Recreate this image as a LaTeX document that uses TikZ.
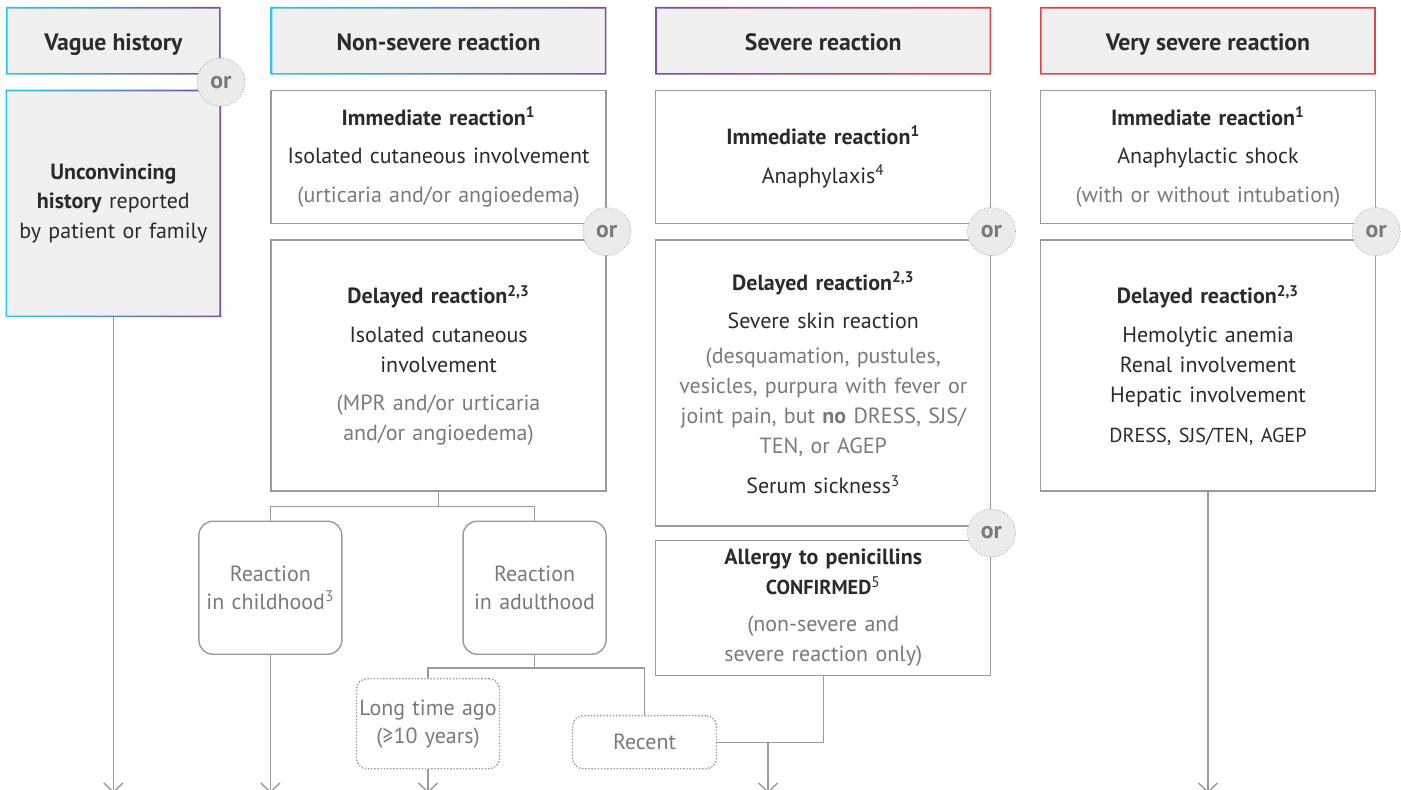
\documentclass[tikz,border=0pt]{standalone}
\usepackage{fontspec}
\setmainfont{PT Sans}
\usetikzlibrary{arrows.meta, positioning, calc}

\definecolor{boxgray}{HTML}{9A9A9A}
\definecolor{txtdark}{HTML}{2B2B2B}
\definecolor{txtgray}{HTML}{7A7A7A}
\definecolor{hdrfill}{HTML}{F0F0F0}
\definecolor{orfill}{HTML}{EBEBEB}
\definecolor{ncyan}{HTML}{2EC4F0}
\definecolor{npurple}{HTML}{7D4DA8}
\definecolor{nred}{HTML}{E2434B}

\newcommand{\gr}[1]{{\color{txtgray}#1}}
% gradient border round a node
\newcommand{\gradframe}[3]{%
  \shade[left color=#2, right color=#3, even odd rule]
    (#1.south west) rectangle (#1.north east)
    ([shift={(0.9pt,0.9pt)}]#1.south west) rectangle ([shift={(-0.9pt,-0.9pt)}]#1.north east);}

\begin{document}
\begin{tikzpicture}[
    hdr/.style={rectangle, fill=hdrfill, minimum height=1.34cm, minimum width=6.7cm,
                text height=12pt, text depth=0.5pt,
                font=\fontsize{13.5}{16}\selectfont\bfseries, text=txtdark, inner sep=0pt},
    card/.style={rectangle, draw=boxgray, line width=0.8pt, fill=white,
                 minimum width=6.7cm, text width=6.5cm, align=center, text=txtdark,
                 font=\fontsize{12.5}{17}\selectfont, inner sep=0pt},
    sub/.style={card, rounded corners=8pt, minimum width=2.86cm, text width=2.8cm,
                minimum height=2.66cm, text=txtgray, font=\fontsize{12.5}{16}\selectfont},
    hint/.style={sub, densely dotted, rounded corners=6pt},
    orbadge/.style={circle, draw=boxgray, densely dotted, fill=orfill, minimum size=0.96cm,
                    inner sep=0pt, text=txtgray, font=\fontsize{13.5}{16}\selectfont\bfseries},
    link/.style={draw=boxgray, line width=0.8pt},
    flow/.style={link, -{Straight Barb[length=0.18cm, width=0.38cm]}},
    node distance=0.3cm
]
\useasboundingbox (0,0) rectangle (28.02,-15.8);
\coordinate (floor) at (0,-15.86);

% Column headers
\node[hdr, minimum width=4.28cm, anchor=north west] (hdrVague) at (0.12,-0.14) {Vague history};
\node[hdr, right=1cm of hdrVague] (hdrNon) {Non-severe reaction};
\node[hdr, right=0.98cm of hdrNon] (hdrSev) {Severe reaction};
\node[hdr, right=0.98cm of hdrSev] (hdrVery) {Very severe reaction};

% Vague history
\node[card, draw=none, fill=hdrfill, minimum width=4.28cm, text width=4.1cm, minimum height=4.52cm,
      below=of hdrVague] (vague) {\textbf{Unconvincing}\\ \textbf{history} reported\\ by patient or family};

% Non-severe reaction
\node[card, minimum height=2.66cm, below=of hdrNon] (nsImm)
  {\textbf{Immediate reaction\textsuperscript{1}}\\[5pt] Isolated cutaneous involvement\\[5pt]
   \gr{(urticaria and/or angioedema)}};
\node[card, minimum height=5.02cm, below=of nsImm] (nsDel)
  {\textbf{Delayed reaction\textsuperscript{2,3}}\\[5pt] Isolated cutaneous\\ involvement\\[5pt]
   \gr{(MPR and/or urticaria\\ and/or angioedema)}};
\node[sub, anchor=north] (child) at ($(nsDel.south west)+(0,-0.58)$) {Reaction\\ in childhood\textsuperscript{3}};
\node[sub, anchor=north east] (adult) at ($(nsDel.south east)+(0,-0.58)$) {Reaction\\ in adulthood};
\node[hint, minimum height=1.8cm, anchor=north] (longAgo) at (8.56,-13.56) {Long time ago\\ (≥10 years)};
\node[hint, minimum height=1.06cm, minimum width=2.88cm, anchor=north] (recent) at (12.89,-14.3) {Recent};

% Severe reaction
\node[card, minimum height=2.66cm, below=of hdrSev] (sevImm)
  {\textbf{Immediate reaction\textsuperscript{1}}\\[5pt] Anaphylaxis\textsuperscript{4}};
\node[card, minimum height=5.72cm, below=of sevImm] (sevDel)
  {\textbf{Delayed reaction\textsuperscript{2,3}}\\[5pt] Severe skin reaction\\[3pt]
   \gr{(desquamation, pustules,\\ vesicles, purpura with fever or\\ joint pain, but \textbf{no} DRESS, SJS/\\ TEN, or AGEP}\\[6pt]
   Serum sickness\textsuperscript{3}};
\node[card, minimum height=2.7cm, below=0.26cm of sevDel] (allergy)
  {\textbf{Allergy to penicillins}\\ {\fontsize{11.5}{14}\selectfont\bfseries CONFIRMED}\textsuperscript{5}\\[4pt]
   \gr{(non-severe and\\ severe reaction only)}};

% Very severe reaction
\node[card, minimum height=2.66cm, below=of hdrVery] (vsImm)
  {\textbf{Immediate reaction\textsuperscript{1}}\\[5pt] Anaphylactic shock\\[5pt]
   \gr{(with or without intubation)}};
\node[card, minimum height=5.02cm, below=of vsImm] (vsDel)
  {\textbf{Delayed reaction\textsuperscript{2,3}}\\[5pt] Hemolytic anemia\\ Renal involvement\\
   Hepatic involvement\\[6pt] {\fontsize{11.5}{15}\selectfont DRESS, SJS/TEN, AGEP}};

% Gradient borders
\gradframe{hdrVague}{ncyan}{npurple}
\gradframe{vague}{ncyan}{npurple}
\gradframe{hdrNon}{ncyan}{npurple}
\gradframe{hdrSev}{npurple}{nred}
\gradframe{hdrVery}{nred}{nred}

% Connectors
\draw[flow] (vague.south) -- (vague.south |- floor);
\draw[link] (nsDel.south) -- ++(0,-0.3) -| (child.north);
\draw[link] (nsDel.south) -- ++(0,-0.3) -| (adult.north);
\draw[flow] (child.south) -- (child.south |- floor);
\draw[link] (adult.south) -- ++(0,-0.26) -| (longAgo.north);
\draw[link] (adult.south) -- ++(0,-0.26) -| (recent.north);
\draw[flow] (longAgo.south) -- (longAgo.south |- floor);
\draw[link] (allergy.south) |- (recent.east);
\path (recent.east) -- (recent.east -| allergy.south) coordinate[pos=0.48] (merge);
\draw[flow] (merge) -- (merge |- floor);
\draw[flow] (vsDel.south) -- (vsDel.south |- floor);

% Or badges
\node[orbadge] (orVague) at ($(hdrVague.south east)!0.5!(vague.north east)$) {or};
\node[orbadge] (orNon) at ($(nsImm.south east)!0.5!(nsDel.north east)$) {or};
\node[orbadge] (orSev) at ($(sevImm.south east)!0.5!(sevDel.north east)$) {or};
\node[orbadge] (orAllergy) at ($(sevDel.south east)!0.5!(allergy.north east)$) {or};
\node[orbadge] (orVery) at ($(vsImm.south east)!0.5!(vsDel.north east)$) {or};
\end{tikzpicture}
\end{document}
